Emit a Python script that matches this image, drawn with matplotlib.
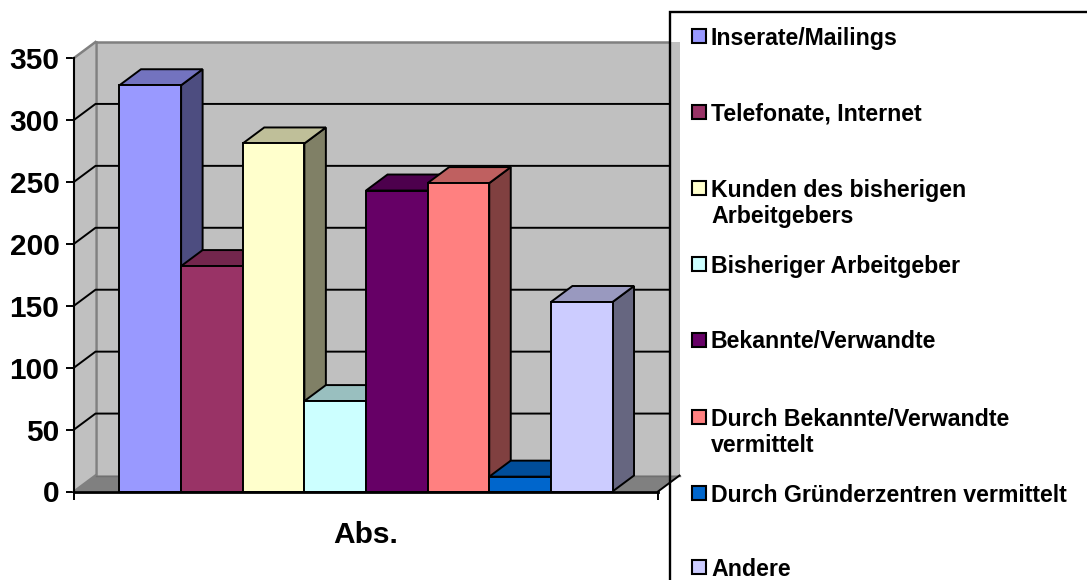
import matplotlib
matplotlib.use("Agg")
import matplotlib.pyplot as plt
from matplotlib.colors import to_rgb
from matplotlib.patches import Polygon, Rectangle

plt.rcParams['font.family'] = ['Liberation Sans', 'DejaVu Sans']
plt.rcParams['font.weight'] = 'bold'

categories = ["Inserate/Mailings", "Telefonate, Internet", "Kunden des bisherigen\nArbeitgebers",
              "Bisheriger Arbeitgeber", "Bekannte/Verwandte", "Durch Bekannte/Verwandte\nvermittelt",
              "Durch Gründerzentren vermittelt", "Andere"]
values = [328, 182, 281, 73, 243, 249, 12, 153]
colors = ["#9999FF", "#993366", "#FFFFCC", "#CCFFFF", "#660066", "#FF8080", "#0066CC", "#CCCCFF"]
y_ticks = [0, 50, 100, 150, 200, 250, 300, 350]
x_label = "Abs."

W, H = 1087, 580
fig = plt.figure(figsize=(W / 100, H / 100), dpi=100)

# Axes box is the front plane of the fake 3D chart.
left, right, top, bottom = 74, 658, 58, 491.5
ax = fig.add_axes([left / W, 1 - bottom / H, (right - left) / W, (bottom - top) / H])

gap = 0.738
xmin, xmax = -0.5 - gap, len(values) - 0.5 + gap
ax.set_xlim(xmin, xmax)
ax.set_ylim(0, 350)

# Depth offset of the back wall, in data units.
dx = 21.5 / (right - left) * (xmax - xmin)
dy = 16 / (bottom - top) * 350
grid_right = xmax + dx * 0.51  # gridlines stop at the legend frame
lw = 1.4

edge = dict(edgecolor="black", linewidth=lw, joinstyle="miter", clip_on=False)


def poly(points, **kw):
    ax.add_patch(Polygon(points, closed=True, clip_on=False, **kw))


# Walls and floor.
poly([(xmin + dx, dy), (xmax + dx, dy), (xmax + dx, 350 + dy), (xmin + dx, 350 + dy)], facecolor="#C0C0C0", edgecolor="none", zorder=1)
poly([(xmin, 0), (xmin + dx, dy), (xmin + dx, 350 + dy), (xmin, 350)], facecolor="#C0C0C0", edgecolor="none", zorder=1)
poly([(xmin, 0), (xmax, 0), (xmax + dx, dy), (xmin + dx, dy)], facecolor="#808080", edgecolor="none", zorder=1)

gray = dict(color="#808080", linewidth=1.8, clip_on=False, zorder=2)
ax.plot([xmin + dx, xmin + dx], [dy, 350 + dy], **gray)
ax.plot([xmin + dx, grid_right], [350 + dy, 350 + dy], **gray)
ax.plot([xmin, xmin + dx], [350, 350 + dy], **gray)
ax.plot([xmin, xmin + dx], [0, dy], **gray)

for t in y_ticks[1:-1]:
    ax.plot([xmin, xmin + dx, grid_right], [t, t + dy, t + dy], color="black", linewidth=lw, clip_on=False, zorder=3)
ax.plot([xmax, xmax + dx], [0, dy], color="black", linewidth=lw, clip_on=False, zorder=3)
ax.plot([xmin + dx, grid_right + dx * 0.49], [dy, dy], color="#707070", linewidth=1, clip_on=False, zorder=2)

# Bars from left to right, so each one covers the side of the previous one.
for i, (v, c) in enumerate(zip(values, colors)):
    x0, x1 = i - 0.5, i + 0.5
    rgb = to_rgb(c)
    z = 4 + i
    poly([(x1, 0), (x1 + dx, dy), (x1 + dx, v + dy), (x1, v)], facecolor=[a * 0.5 for a in rgb], zorder=z,
         edgecolor="black", linewidth=lw)
    poly([(x0, v), (x1, v), (x1 + dx, v + dy), (x0 + dx, v + dy)], facecolor=[a * 0.75 for a in rgb], zorder=z,
         edgecolor="black", linewidth=lw)
    ax.add_patch(Rectangle((x0, 0), 1, v, facecolor=c, zorder=z, **edge))

for s in ["top", "right"]:
    ax.spines[s].set_visible(False)
ax.spines["left"].set_linewidth(1.5)
ax.spines["bottom"].set_linewidth(2.0)
ax.spines["left"].set_zorder(20)
ax.spines["bottom"].set_zorder(20)

ax.set_yticks(y_ticks)
ax.set_xticks([xmin, xmax])
ax.set_xticklabels(["", ""])
ax.tick_params(axis="both", length=6, width=1.4, labelsize=21.5, pad=4.5)
ax.set_xlabel(x_label, fontsize=21.5, fontweight="bold", labelpad=11)
ax.set_facecolor("none")

# Legend: frame runs off the image on the right and at the bottom.
lax = fig.add_axes([0, 0, 1, 1])
lax.set_xlim(0, W)
lax.set_ylim(H, 0)
lax.axis("off")
lax.plot([670, 670, W + 5], [H + 5, 12, 12], color="black", linewidth=1.7, solid_joinstyle="miter")

legend_y = [36, 112, 188, 264, 340, 417, 493, 567]
for y, name, c in zip(legend_y, categories, colors):
    lax.add_patch(Rectangle((692, y - 7), 14, 14, facecolor=c, edgecolor="black", linewidth=1.5))
    lax.text(711, y - 9.5, name, fontsize=16.7, fontweight="bold", va="top", ha="left", linespacing=1.2)

fig.savefig("out.png", dpi=100)
